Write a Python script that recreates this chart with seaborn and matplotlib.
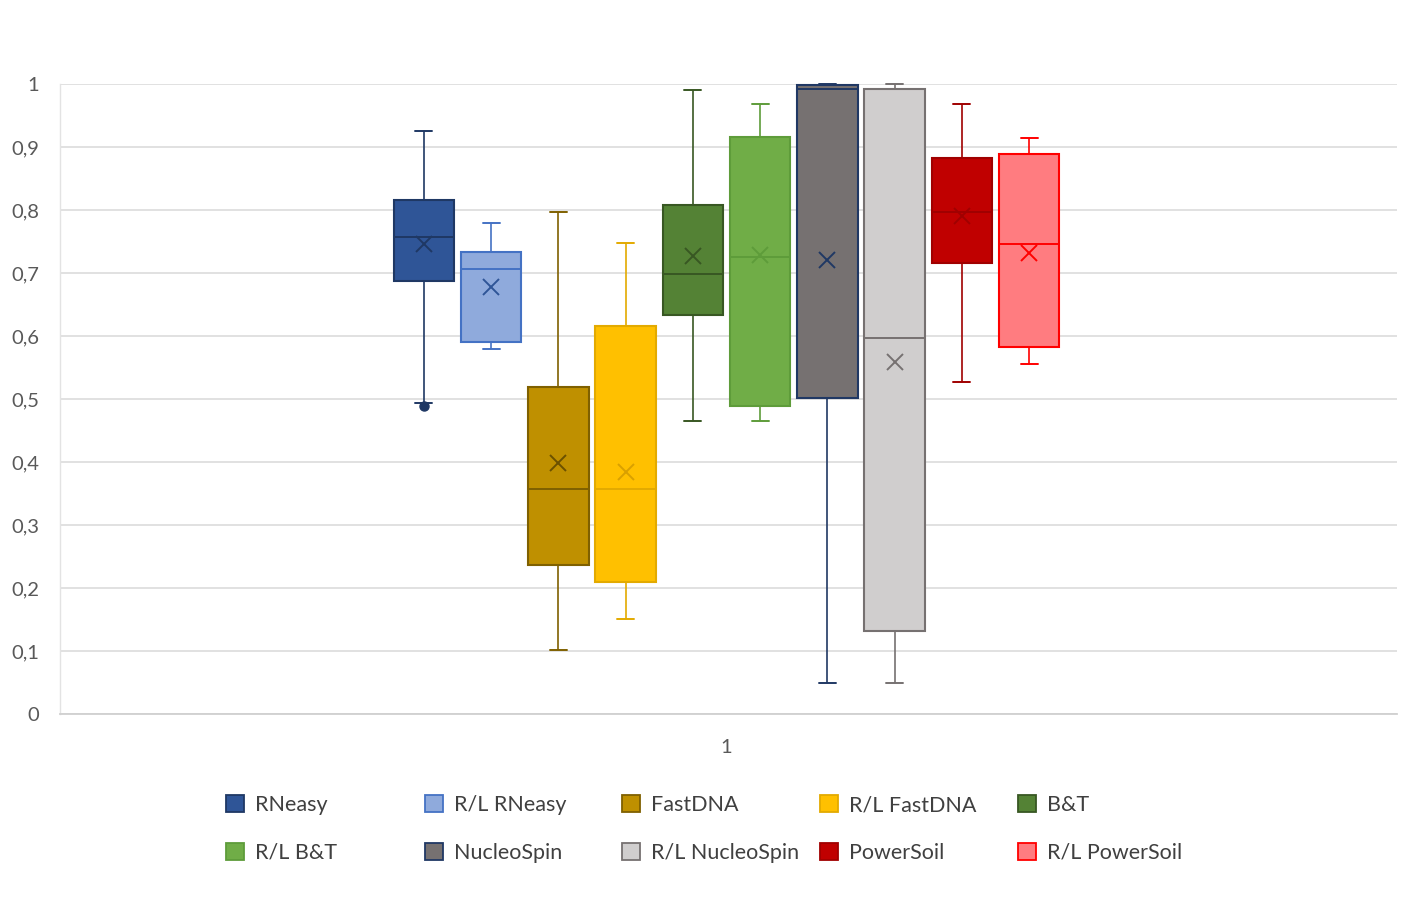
import numpy as np
import pandas as pd
import matplotlib
matplotlib.use("Agg")
import matplotlib.pyplot as plt
import seaborn as sns
from matplotlib.patches import Patch
from matplotlib.ticker import FuncFormatter

# ---------------- data ----------------
category = "1"
methods = ["RNeasy", "R/L RNeasy", "FastDNA", "R/L FastDNA", "B&T",
           "R/L B&T", "NucleoSpin", "R/L NucleoSpin", "PowerSoil", "R/L PowerSoil"]
whisker_low = [0.494, 0.579, 0.102, 0.151, 0.465, 0.465, 0.049, 0.049, 0.527, 0.556]
q1 = [0.687, 0.590, 0.237, 0.210, 0.633, 0.489, 0.502, 0.132, 0.716, 0.583]
median = [0.757, 0.706, 0.357, 0.357, 0.698, 0.725, 0.992, 0.597, 0.797, 0.746]
q3 = [0.816, 0.733, 0.519, 0.616, 0.808, 0.916, 0.998, 0.992, 0.883, 0.889]
whisker_high = [0.925, 0.779, 0.797, 0.748, 0.990, 0.968, 1.000, 1.000, 0.968, 0.914]
means = [0.746, 0.678, 0.398, 0.384, 0.727, 0.729, 0.720, 0.559, 0.790, 0.732]
outlier_method = ["RNeasy"]
outlier_value = [0.489]
y_ticks = [0, 0.1, 0.2, 0.3, 0.4, 0.5, 0.6, 0.7, 0.8, 0.9, 1.0]

# ---------------- styles ----------------
fills = ["#2F5597", "#8FAADC", "#BF9000", "#FFC000", "#548235",
         "#70AD47", "#767171", "#D0CECE", "#C00000", "#FF7C80"]
edges = ["#1F3864", "#4472C4", "#7F6000", "#E3AA00", "#385723",
         "#5E9C3A", "#203864", "#767171", "#A00000", "#FF0000"]
mean_colors = ["#1F3864", "#2F5597", "#6B5100", "#D9A000", "#385723",
               "#5E9C3A", "#203864", "#767171", "#A00000", "#FF0000"]

sns.set_theme(style="white")
plt.rcParams["font.family"] = ["Lato", "DejaVu Sans"]

# five-number summaries -> rows for seaborn
rows = []
for m, lo, a, md, b, hi in zip(methods, whisker_low, q1, median, q3, whisker_high):
    for v in (lo, a, md, b, hi):
        rows.append({"group": category, "method": m, "value": v})
df = pd.DataFrame(rows)

W, H = 1417, 901
fig = plt.figure(figsize=(W / 100, H / 100), dpi=100)
ax = fig.add_axes([60 / W, 1 - 714 / H, (1397 - 60) / W, (714 - 84) / H])

sns.boxplot(data=df, x="group", y="value", hue="method", hue_order=methods,
            palette=dict(zip(methods, fills)), width=0.503, gap=0.1,
            whis=(0, 100), showfliers=False, saturation=1, linewidth=1.4,
            legend=False, ax=ax)

conts = [c for c in ax.containers if hasattr(c, "boxes")]
conts.sort(key=lambda c: np.mean(c.medians[0].get_xdata()))
cap_half = 8.5 / (1397 - 60)
centers = []
for i, c in enumerate(conts):
    cx = float(np.mean(c.medians[0].get_xdata()))
    centers.append(cx)
    for b in c.boxes:
        b.set_edgecolor(edges[i]); b.set_linewidth(1.5); b.set_clip_on(False)
    for md in c.medians:
        md.set_color(edges[i]); md.set_linewidth(1.4)
    for w in c.whiskers:
        w.set_color(edges[i]); w.set_linewidth(1.2); w.set_clip_on(False)
    for cp in c.caps:
        cp.set_color(edges[i]); cp.set_linewidth(1.4); cp.set_clip_on(False)
        cp.set_xdata([cx - cap_half, cx + cap_half])

for i, m in enumerate(methods):
    ax.plot(centers[i], means[i], marker="x", ms=11, mew=1.4,
            color=mean_colors[i], linestyle="none", zorder=5)
for m, v in zip(outlier_method, outlier_value):
    i = methods.index(m)
    ax.plot(centers[i], v, marker="o", ms=6.5, color=edges[i],
            linestyle="none", zorder=5, clip_on=False)

ax.set_xlim(-0.4985, 0.5015)
ax.set_ylim(0, 1)
ax.set_yticks(y_ticks)
ax.yaxis.set_major_formatter(FuncFormatter(
    lambda v, p: ("%g" % round(v, 1)).replace(".", ",")))
ax.yaxis.grid(True, color="#D9D9D9", linewidth=1.1)
ax.set_axisbelow(True)
ax.tick_params(axis="y", length=0, pad=15, labelsize=14.5, labelcolor="#595959")
ax.tick_params(axis="x", length=0, pad=18, labelsize=14.5, labelcolor="#595959")
ax.set_xlabel("")
ax.set_ylabel("")
for s in ("top", "right"):
    ax.spines[s].set_visible(False)
ax.spines["left"].set_color("#E3E3E3")
ax.spines["left"].set_linewidth(1.0)
ax.spines["bottom"].set_color("#D0D0D0")
ax.spines["bottom"].set_linewidth(1.3)

# legend: 5 columns x 2 rows, evenly spaced like Excel
handles = [Patch(facecolor=f, edgecolor=e, linewidth=1.3) for f, e in zip(fills, edges)]
col_x = [226, 425, 622, 820, 1018]
for j, x in enumerate(col_x):
    hs = [handles[j], handles[j + 5]]
    ls = [methods[j], methods[j + 5]]
    fig.legend(hs, ls, loc="center left", bbox_to_anchor=(x / W, 1 - 829 / H),
               frameon=False, borderpad=0, borderaxespad=0, fontsize=15.5,
               handlelength=0.83, handleheight=0.83, handletextpad=0.5,
               labelspacing=1.3, labelcolor="#404040")

fig.savefig("out.png", dpi=100)
